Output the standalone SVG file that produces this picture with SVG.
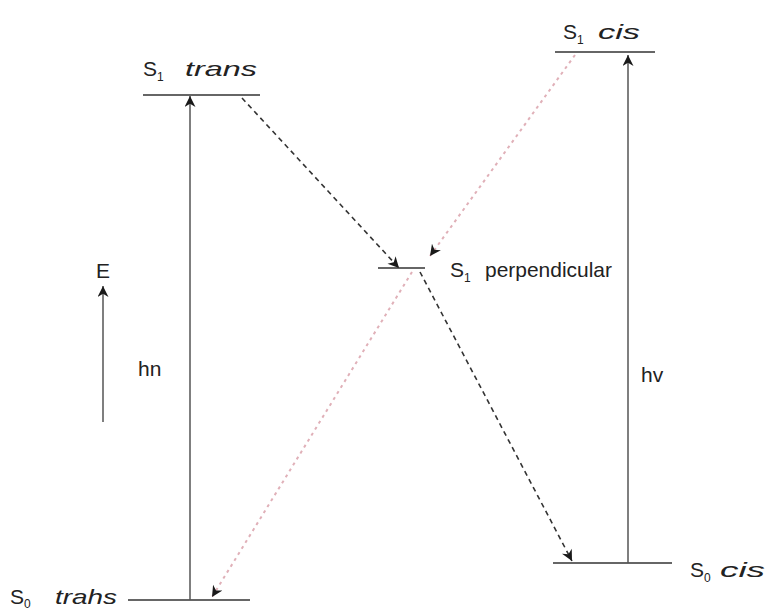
<svg xmlns="http://www.w3.org/2000/svg" width="772" height="614" viewBox="0 0 772 614">
<defs>
<marker id="ahs" viewBox="0 0 10 10" refX="10" refY="5" markerWidth="14" markerHeight="11" orient="auto" markerUnits="userSpaceOnUse">
<path d="M0,0 L10,5 L0,10 L3,5 Z" fill="#1a1a1a"/>
</marker>
</defs>
<style>
.lvl{stroke:#333;stroke-width:1.6;fill:none}
.vert{stroke:#555;stroke-width:1.5;fill:none}
.dash{stroke:#333;stroke-width:1.6;stroke-dasharray:5 4;fill:none}
.pink{stroke:#e0b0b8;stroke-width:2;stroke-dasharray:3 4;fill:none}
.t{font-family:"Liberation Sans",Arial,sans-serif;font-size:21px;fill:#222}
.it{font-style:italic}
.sub{font-size:12px}
</style>
<rect width="772" height="614" fill="#fff"/>
<g id="s1trans">
<line class="lvl" x1="143" y1="95" x2="260" y2="95"/>
<text class="t" x="143" y="76">S<tspan class="sub" dy="5">1</tspan><tspan dy="-5" x="185" class="it" textLength="72" lengthAdjust="spacingAndGlyphs">trans</tspan></text>
</g>
<g id="s0trans">
<line class="lvl" x1="128" y1="600" x2="250" y2="600"/>
<text class="t" x="10" y="604">S<tspan class="sub" dy="4">0</tspan><tspan dy="-4" x="55" class="it" textLength="62" lengthAdjust="spacingAndGlyphs">trahs</tspan></text>
</g>
<g id="s1perp">
<line class="lvl" x1="378" y1="268" x2="425" y2="268"/>
<text class="t" x="450" y="277">S<tspan class="sub" dy="5">1</tspan><tspan dy="-5" x="485" textLength="127" lengthAdjust="spacingAndGlyphs">perpendicular</tspan></text>
</g>
<g id="s1cis">
<line class="lvl" x1="555" y1="52" x2="655" y2="52"/>
<text class="t" x="563" y="39">S<tspan class="sub" dy="5">1</tspan><tspan dy="-5" x="598" class="it" textLength="42" lengthAdjust="spacingAndGlyphs">cis</tspan></text>
</g>
<g id="s0cis">
<line class="lvl" x1="553" y1="563" x2="672" y2="563"/>
<text class="t" x="690" y="577">S<tspan class="sub" dy="5">0</tspan><tspan dy="-5" x="720" class="it" textLength="45" lengthAdjust="spacingAndGlyphs">cis</tspan></text>
</g>
<g id="energy">
<line class="vert" x1="103" y1="422" x2="103" y2="286" marker-end="url(#ahs)"/>
<text class="t" x="96" y="278">E</text>
</g>
<g id="connectors">
<line class="vert" x1="190" y1="600" x2="190" y2="96" marker-end="url(#ahs)"/>
<text class="t" x="138" y="376" font-size="17">hn</text>
<line class="vert" x1="628" y1="563" x2="628" y2="55" marker-end="url(#ahs)"/>
<text class="t" x="641" y="382" font-size="17">hv</text>
<line class="dash" x1="242" y1="98" x2="399" y2="268" marker-end="url(#ahs)"/>
<line class="dash" x1="420" y1="272" x2="572" y2="561" marker-end="url(#ahs)"/>
<line class="pink" x1="575" y1="55" x2="430" y2="256" marker-end="url(#ahs)"/>
<line class="pink" x1="412" y1="272" x2="212" y2="597" marker-end="url(#ahs)"/>
</g>
</svg>
